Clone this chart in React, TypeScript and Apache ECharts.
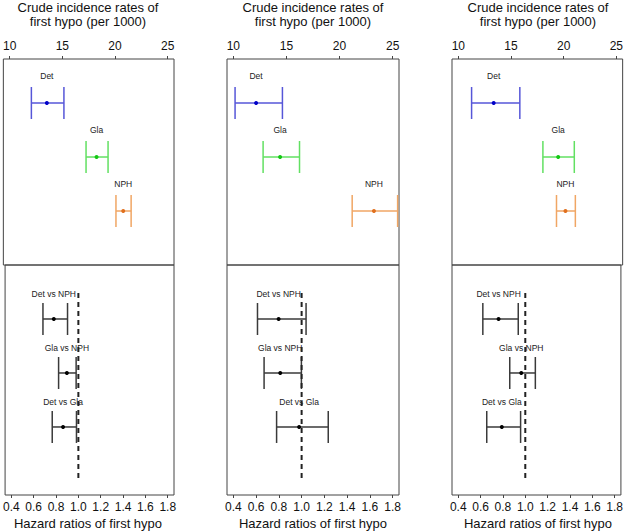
import React, { useEffect, useRef } from "react";
import * as echarts from "echarts";

// ---- Data ----
const groups = ["Det", "Gla", "NPH"];
const comparisons = ["Det vs NPH", "Gla vs NPH", "Det vs Gla"];

// Crude incidence rates (per 1000): [low, high, estimate] per panel
const rateLow = [
  [12.06, 17.25, 20.09],
  [10.16, 12.8, 21.19],
  [11.26, 18.03, 19.32],
];
const rateHigh = [
  [15.15, 19.34, 21.53],
  [14.62, 16.23, 25.47],
  [15.84, 21.01, 21.11],
];
const rateEst = [
  [13.53, 18.25, 20.78],
  [12.14, 14.4, 23.24],
  [13.36, 19.48, 20.17],
];

// Hazard ratios: [low, high, estimate] per panel
const hrLow = [
  [0.683, 0.823, 0.766],
  [0.612, 0.67, 0.78],
  [0.62, 0.861, 0.655],
];
const hrHigh = [
  [0.903, 0.98, 0.983],
  [1.039, 0.998, 1.234],
  [0.937, 1.09, 0.958],
];
const hrEst = [
  [0.78, 0.897, 0.863],
  [0.798, 0.812, 0.978],
  [0.761, 0.964, 0.79],
];

const rateTicks = [10, 15, 20, 25];
const hrTicks = [0.4, 0.6, 0.8, 1.0, 1.2, 1.4, 1.6, 1.8];
const refValue = 1.0;

const FONT = "'Liberation Sans', Arial, Helvetica, sans-serif";
const lineColors = ["#5656d8", "#62e062", "#f0a664"];
const pointColors = ["#0000c8", "#14c814", "#e0701e"];

export default function App() {
  const ref = useRef<HTMLDivElement>(null);

  useEffect(() => {
    if (!ref.current) return;
    const chart = echarts.init(ref.current, undefined, { renderer: "svg" });

    const lefts = [2, 227, 452];
    const W = 172;
    const topY = 59;
    const topH = 206;
    const botY = 265;
    const botH = 230;

    const grids: any[] = [];
    const xAxes: any[] = [];
    const yAxes: any[] = [];
    const series: any[] = [];
    const graphics: any[] = [];

    const makeRender = (names: string[], lc: (i: number) => string, pc: (i: number) => string, labelOff: number) =>
      (params: any, api: any) => {
        const i = params.dataIndex;
        const y = api.value(3);
        const lo = api.coord([api.value(0), y]);
        const hi = api.coord([api.value(1), y]);
        const pt = api.coord([api.value(2), y]);
        const stroke = lc(i);
        return {
          type: "group",
          children: [
            { type: "line", shape: { x1: lo[0], y1: lo[1], x2: hi[0], y2: hi[1] }, style: { stroke, lineWidth: 1.5 } },
            { type: "line", shape: { x1: lo[0], y1: lo[1] - 16, x2: lo[0], y2: lo[1] + 16 }, style: { stroke, lineWidth: 1.5 } },
            { type: "line", shape: { x1: hi[0], y1: hi[1] - 16, x2: hi[0], y2: hi[1] + 16 }, style: { stroke, lineWidth: 1.5 } },
            { type: "circle", shape: { cx: pt[0], cy: pt[1], r: 2 }, style: { fill: pc(i) } },
            {
              type: "text",
              x: pt[0],
              y: pt[1] - labelOff,
              style: {
                text: names[i],
                align: "center",
                verticalAlign: "middle",
                fontSize: 8.5,
                fontFamily: FONT,
                fill: "#222",
              },
            },
          ],
        };
      };

    for (let p = 0; p < 3; p++) {
      const L = lefts[p];
      grids.push({ left: L, top: topY, width: W, height: topH, show: true, borderColor: "#444", borderWidth: 1, backgroundColor: "transparent" });
      grids.push({ left: L, top: botY, width: W, height: botH, show: true, borderColor: "#444", borderWidth: 1, backgroundColor: "transparent" });

      const gTop = p * 2;
      const gBot = p * 2 + 1;

      xAxes.push({
        gridIndex: gTop,
        type: "value",
        position: "top",
        min: 9.4,
        max: 25.6,
        axisLine: { show: false, onZero: false },
        splitLine: { show: false },
        axisTick: { show: true, length: 3, customValues: rateTicks, lineStyle: { color: "#444" } },
        axisLabel: { customValues: rateTicks, fontSize: 12, fontFamily: FONT, color: "#111", margin: 7 },
      });
      xAxes.push({
        gridIndex: gBot,
        type: "value",
        position: "bottom",
        min: 0.344,
        max: 1.856,
        axisLine: { show: false, onZero: false },
        splitLine: { show: false },
        axisTick: { show: true, length: 3, customValues: hrTicks, lineStyle: { color: "#444" } },
        axisLabel: {
          customValues: hrTicks,
          fontSize: 12,
          fontFamily: FONT,
          color: "#111",
          margin: 6,
          formatter: (v: number) => v.toFixed(1),
        },
      });
      yAxes.push({ gridIndex: gTop, type: "value", inverse: true, min: -0.815, max: 3, show: false });
      yAxes.push({ gridIndex: gBot, type: "value", inverse: true, min: -1, max: 3.26, show: false });

      series.push({
        type: "custom",
        xAxisIndex: gTop,
        yAxisIndex: gTop,
        renderItem: makeRender(groups, (i) => lineColors[i], (i) => pointColors[i], 27),
        data: groups.map((_, i) => [rateLow[p][i], rateHigh[p][i], rateEst[p][i], i]),
        clip: true,
      });
      series.push({
        type: "line",
        xAxisIndex: gBot,
        yAxisIndex: gBot,
        symbol: "none",
        lineStyle: { color: "#222", width: 2, type: [5, 4] },
        data: [
          [refValue, -0.48],
          [refValue, 3.02],
        ],
      });
      series.push({
        type: "custom",
        xAxisIndex: gBot,
        yAxisIndex: gBot,
        renderItem: makeRender(comparisons, () => "#3a3a3a", () => "#000", 25),
        data: comparisons.map((_, i) => [hrLow[p][i], hrHigh[p][i], hrEst[p][i], i]),
        clip: true,
      });

      const cx = L + W / 2;
      graphics.push(
        { type: "text", x: cx, y: 7, style: { text: "Crude incidence rates of", align: "center", verticalAlign: "middle", fontSize: 13, fontFamily: FONT, fill: "#111" } },
        { type: "text", x: cx, y: 21.5, style: { text: "first hypo (per 1000)", align: "center", verticalAlign: "middle", fontSize: 13, fontFamily: FONT, fill: "#111" } },
        { type: "text", x: cx, y: 523.5, style: { text: "Hazard ratios of first hypo", align: "center", verticalAlign: "middle", fontSize: 13, fontFamily: FONT, fill: "#111" } }
      );
    }

    chart.setOption({
      animation: false,
      backgroundColor: "#fff",
      grid: grids,
      xAxis: xAxes,
      yAxis: yAxes,
      series,
      graphic: graphics,
    });

    return () => chart.dispose();
  }, []);

  return <div ref={ref} style={{ position: "fixed", left: 0, top: 0, width: 626, height: 532 }} />;
}
